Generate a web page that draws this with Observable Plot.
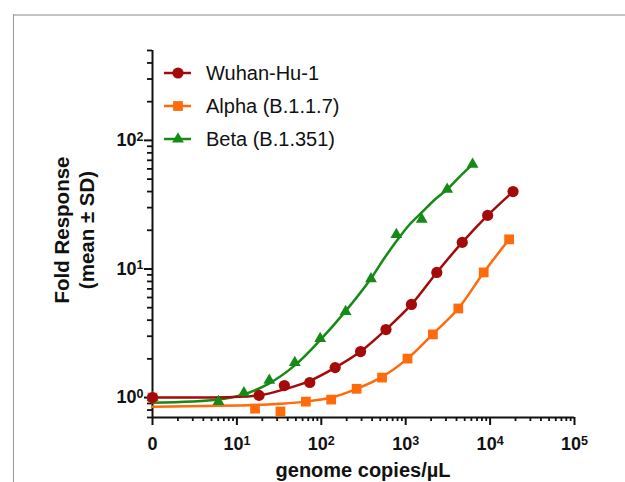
<!DOCTYPE html>
<html><head><meta charset="utf-8">
<script src="https://cdn.jsdelivr.net/npm/d3@7"></script>
<script src="https://cdn.jsdelivr.net/npm/@observablehq/plot@0.6"></script>
<style>
body{margin:0;background:#fff;font-family:"Liberation Sans",Arial,sans-serif;}
#wrap{position:relative;width:625px;height:482px;overflow:hidden;background:#fff;}
#wrap svg.plot{position:absolute;left:0;top:0;}
.bt{position:absolute;left:13px;top:14px;width:612px;height:2px;background:#c4c4c4;}
.bl{position:absolute;left:13px;top:14px;width:1px;height:468px;background:#9a9a9a;}
.xl{position:absolute;left:163px;width:400px;top:459px;text-align:center;font-weight:bold;font-size:20px;color:#111;}
.yl{position:absolute;left:-126px;top:205px;width:400px;text-align:center;font-weight:bold;font-size:20.5px;line-height:25px;color:#111;transform:rotate(-90deg);}
</style></head><body><div id="wrap"><div class="bt"></div><div class="bl"></div></div>
<script>
// ---- data ----
const seriesNames = ["Wuhan-Hu-1", "Alpha (B.1.1.7)", "Beta (B.1.351)"];
const seriesColors = ["#a50a0a", "#ff6a0a", "#158a15"];
const seriesSymbols = ["circle", "square", "triangle"];

const wuhanX = [0, 18.3, 36.5, 73, 146, 292, 584, 1169, 2337, 4675, 9350, 18700];
const wuhanY = [1.0, 1.04, 1.24, 1.31, 1.71, 2.28, 3.38, 5.3, 9.4, 16.1, 26.1, 40];
const alphaX = [0, 16.4, 32.8, 65.6, 131, 262, 525, 1050, 2100, 4200, 8400, 16800];
const alphaY = [1.0, 0.82, 0.78, 0.93, 0.965, 1.17, 1.43, 2.01, 3.1, 4.93, 9.4, 17];
const betaX = [0, 6.05, 12.1, 24.2, 48.5, 97, 194, 388, 775, 1550, 3100, 6200];
const betaY = [1.0, 0.93, 1.09, 1.36, 1.87, 2.88, 4.67, 8.4, 18.5, 24.3, 41.6, 65];

// fitted curves
const wuhanFitX = [0, 9, 18.3, 36.5, 73, 146, 292, 584, 1169, 2337, 4675, 9350, 18700];
const wuhanFitY = [1.0, 1.01, 1.04, 1.16, 1.35, 1.71, 2.28, 3.38, 5.3, 9.4, 16.1, 26.1, 40];
const alphaFitX = [0, 16.4, 32.8, 65.6, 131, 262, 525, 1050, 2100, 4200, 8400, 16800];
const alphaFitY = [0.85, 0.875, 0.895, 0.93, 1.0, 1.17, 1.45, 2.01, 3.12, 4.93, 9.4, 17];
const betaFitX = [0, 6.05, 12.1, 24.2, 48.5, 97, 194, 388, 547, 775, 1086, 1550, 2155, 3100, 4395, 6200];
const betaFitY = [0.91, 0.965, 1.06, 1.29, 1.78, 2.8, 4.7, 8.43, 11.9, 16.4, 21.8, 27.5, 34.1, 41.6, 52.5, 65];

const xTickValues = [0, 10, 100, 1000, 10000, 100000];
const xTickLabels = ["0", "10^1", "10^2", "10^3", "10^4", "10^5"];
const yTickValues = [1, 10, 100];
const yTickLabels = ["10^0", "10^1", "10^2"];
const yDomain = [0.7, 500];
const xDomain = [0, 100000];
const xLabel = "genome copies/\u00b5L";
const yLabel1 = "Fold Response";
const yLabel2 = "(mean \u00b1 SD)";

// "0" is drawn where 10^0 would be on the log axis
const zeroPos = 1;
const px = v => (v === 0 ? zeroPos : v);

const pts = [], fits = [];
const sx = [wuhanX, alphaX, betaX], sy = [wuhanY, alphaY, betaY];
const fx = [wuhanFitX, alphaFitX, betaFitX], fy = [wuhanFitY, alphaFitY, betaFitY];
seriesNames.forEach((s, i) => {
  sx[i].forEach((x, j) => pts.push({s, x: px(x), y: sy[i][j]}));
  fx[i].forEach((x, j) => fits.push({s, x: px(x), y: fy[i][j]}));
});

const xMinor = [], yMinor = [];
for (let d = 1; d < 100000; d *= 10) for (let m = 2; m <= 9; m++) xMinor.push(d * m);
for (let d = 0.1; d < 1000; d *= 10) for (let m = 2; m <= 9; m++) { const v = +(d * m).toPrecision(3); if (v >= yDomain[0] && v <= yDomain[1]) yMinor.push(v); }

const xLabelOf = new Map(xTickValues.map((v, i) => [px(v), xTickLabels[i]]));
const yLabelOf = new Map(yTickValues.map((v, i) => [v, yTickLabels[i]]));

const order = [2, 1, 0];
const marks = [];
for (const i of order) {
  marks.push(Plot.line(fits.filter(d => d.s === seriesNames[i]), {x: "x", y: "y", stroke: seriesColors[i], strokeWidth: 2.5, curve: "catmull-rom"}));
}
const rOf = {circle: 5.6, square: 5.5, triangle: 4.4};
for (const i of order) {
  marks.push(Plot.dot(pts.filter(d => d.s === seriesNames[i]), {x: "x", y: "y", fill: seriesColors[i], stroke: "none", symbol: () => seriesSymbols[i], r: rOf[seriesSymbols[i]]}));
}

const chart = Plot.plot({
  width: 625, height: 482,
  marginLeft: 152, marginRight: 51, marginTop: 50, marginBottom: 65,
  style: {fontFamily: "'Liberation Sans', Arial, sans-serif", fontSize: "18px", fontWeight: "bold", color: "#111", background: "transparent"},
  x: {type: "log", domain: [zeroPos, xDomain[1]]},
  y: {type: "log", domain: yDomain},
  symbol: {domain: ["circle", "square", "triangle"], range: ["circle", "square", "triangle"]},
  marks: [
    Plot.axisX(xMinor, {tickSize: 4, strokeWidth: 1.8, tickFormat: () => "", label: null}),
    Plot.axisX(xTickValues.map(px), {tickSize: 8, strokeWidth: 2, tickPadding: 12, tickFormat: d => xLabelOf.get(d), label: null}),
    Plot.axisY(yMinor, {tickSize: 5, strokeWidth: 1.8, tickFormat: () => "", label: null}),
    Plot.axisY(yTickValues, {tickSize: 8, strokeWidth: 2, tickPadding: 1, tickFormat: d => yLabelOf.get(d), label: null}),
    Plot.ruleY([yDomain[0]], {stroke: "#111", strokeWidth: 2}),
    Plot.ruleX([zeroPos], {stroke: "#111", strokeWidth: 2}),
    ...marks
  ]
});
chart.classList.add("plot");

// superscripts in tick labels
chart.querySelectorAll("text").forEach(t => {
  const s = t.textContent;
  if (/^10\^\d$/.test(s)) {
    const [base, exp] = s.split("^");
    while (t.firstChild) t.removeChild(t.firstChild);
    const a = document.createElementNS("http://www.w3.org/2000/svg", "tspan");
    a.textContent = base;
    const b = document.createElementNS("http://www.w3.org/2000/svg", "tspan");
    b.textContent = exp;
    b.setAttribute("dy", "-0.42em");
    b.setAttribute("font-size", "12.5px");
    t.appendChild(a); t.appendChild(b);
  }
});

const wrap = document.getElementById("wrap");
wrap.appendChild(chart);

const xl = document.createElement("div"); xl.className = "xl"; xl.textContent = xLabel; wrap.appendChild(xl);
const yl = document.createElement("div"); yl.className = "yl";
[yLabel1, yLabel2].forEach(t => { const d = document.createElement("div"); d.textContent = t; yl.appendChild(d); });
wrap.appendChild(yl);

// legend
const lg = d3.select(wrap).append("svg").attr("width", 260).attr("height", 100)
  .style("position", "absolute").style("left", "160px").style("top", "58px");
const symMap = {circle: d3.symbolCircle, square: d3.symbolSquare, triangle: d3.symbolTriangle};
seriesNames.forEach((s, i) => {
  const g = lg.append("g").attr("transform", `translate(0,${15 + i * 33})`);
  g.append("line").attr("x1", 4).attr("x2", 31).attr("stroke", seriesColors[i]).attr("stroke-width", 2.5);
  const r = rOf[seriesSymbols[i]];
  g.append("path").attr("transform", "translate(18,0)").attr("d", d3.symbol(symMap[seriesSymbols[i]], r * r * Math.PI)()).attr("fill", seriesColors[i]);
  g.append("text").attr("x", 46).attr("dy", "0.35em").attr("font-size", "20px").attr("font-family", "'Liberation Sans', Arial, sans-serif").attr("fill", "#111").text(s);
});
</script></body></html>
